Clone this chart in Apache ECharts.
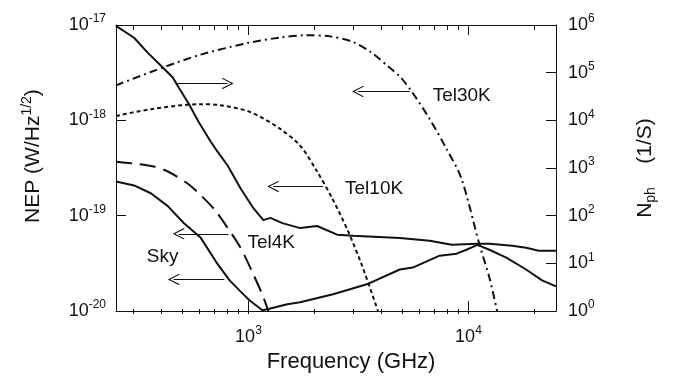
<!DOCTYPE html>
<html>
<head>
<meta charset="utf-8">
<script src="https://cdn.jsdelivr.net/npm/echarts@6/dist/echarts.min.js"></script>
<style>
  html, body { margin: 0; padding: 0; background: #fff; }
  #chart { width: 676px; height: 378px; }
</style>
</head>
<body>
<div id="chart"></div>
<script>
const FONT = "'Liberation Sans', Arial, Helvetica, sans-serif";
const INK = "#111";

// N_ph (right axis), solid
const nphFreq = [250, 302, 349, 408, 453, 482, 536, 594, 673, 710, 804, 920, 1053, 1169, 1258, 1426, 1718, 2052, 2529, 2986, 4875, 6668, 8400, 10900, 12500, 15800, 18300, 20900, 25000];
const nphVal = [9.6e5, 5.4e5, 2.6e5, 1.28e5, 7.9e4, 4.9e4, 2.2e4, 9.2e3, 3.6e3, 2.5e3, 1.13e3, 376, 144, 81, 90, 70, 55, 61, 40, 38, 34, 30, 24.6, 26, 26, 23.5, 21.3, 18.5, 18.5];

// Tel30K NEP, dash-dot
const tel30Freq = [250, 408, 607, 1000, 1400, 1800, 2350, 3000, 3600, 4300, 4875, 5521, 6668, 7946, 9288, 11230, 12450, 13500];
const tel30Nep = [2.33e-18, 3.58e-18, 4.89e-18, 6.5e-18, 7.4e-18, 7.8e-18, 7.6e-18, 6.6e-18, 5.2e-18, 3.7e-18, 2.88e-18, 2.01e-18, 1.03e-18, 5.04e-19, 2.46e-19, 4.95e-20, 2.25e-20, 1e-20];

// Tel10K NEP, dotted
const tel10Freq = [250, 360, 607, 747, 1021, 1395, 1718, 2052, 2400, 2833, 3282, 3880];
const tel10Nep = [1.11e-18, 1.31e-18, 1.48e-18, 1.44e-18, 1.22e-18, 8.13e-19, 5.42e-19, 2.91e-19, 1.53e-19, 6.93e-20, 3.0e-20, 1e-20];

// Tel4K NEP, long dash
const tel4Freq = [250, 302, 371, 430, 529, 607, 710, 804, 920, 1053, 1169, 1232];
const tel4Nep = [3.69e-19, 3.52e-19, 3.28e-19, 2.91e-19, 2.18e-19, 1.64e-19, 1.12e-19, 7.45e-20, 4.62e-20, 2.42e-20, 1.40e-20, 1e-20];

// Sky NEP, solid
const skyFreq = [250, 302, 360, 430, 508, 607, 716, 821, 910, 1010, 1157, 1232, 1501, 1718, 2426, 3452, 4875, 5582, 7398, 8830, 9790, 10990, 12450, 14860, 18280, 21620, 25000];
const skyNep = [2.29e-19, 2.08e-19, 1.72e-19, 1.26e-19, 8.4e-20, 5.86e-20, 3.23e-20, 2.10e-20, 1.65e-20, 1.30e-20, 1.02e-20, 1.05e-20, 1.18e-20, 1.24e-20, 1.50e-20, 1.91e-20, 2.73e-20, 2.86e-20, 3.81e-20, 4.0e-20, 4.40e-20, 4.95e-20, 4.40e-20, 3.63e-20, 2.73e-20, 2.10e-20, 1.82e-20];

// tick values
const xMajor = [1000, 10000];
const xMinor = [300, 400, 500, 600, 700, 800, 900, 2000, 3000, 4000, 5000, 6000, 7000, 8000, 9000, 20000];
const nepTicks = [1e-20, 1e-19, 1e-18, 1e-17];
const nphTicks = [1, 10, 100, 1e3, 1e4, 1e5, 1e6];

const W = 676, H = 378;
const GRID = { left: 116, right: 120, top: 25, bottom: 64 };
const gL = GRID.left, gR = W - GRID.right, gT = GRID.top, gB = H - GRID.bottom;

const ARROW = "path://M0,0L10,9L9,10L0,2L-9,10L-10,9Z";

const pairs = (xs, ys) => xs.map((x, i) => [x, ys[i]]);
const powLabel = (v) => "{b|10}{e|" + Math.round(Math.log10(v)) + "}";
const powRich = {
  b: { fontSize: 18, lineHeight: 24, fontFamily: FONT, color: INK },
  e: { fontSize: 12, lineHeight: 14, verticalAlign: "top", fontFamily: FONT, color: INK },
};

// 箭头 (tail -> head)
const arrow = (x1, x2, y) => ({
  silent: true,
  symbol: ["none", ARROW],
  symbolSize: [11, 12],
  label: { show: false },
  lineStyle: { color: INK, width: 1, type: "solid" },
  itemStyle: { color: INK },
  data: [[{ coord: [x1, y] }, { coord: [x2, y] }]],
});
const note = (text, x, y) => ({
  silent: true,
  symbol: "circle",
  symbolSize: 0,
  label: { show: true, position: "right", distance: 0, formatter: text, fontSize: 19, fontFamily: FONT, color: INK },
  data: [{ coord: [x, y] }],
});

// inward frame ticks: value along the axis, fixed pixel length
const xTickLines = (vals, len) => vals.flatMap((v) => [
  [{ coord: [v, 1e-19], y: gB }, { coord: [v, 1e-19], y: gB - len }],
  [{ coord: [v, 1e-19], y: gT }, { coord: [v, 1e-19], y: gT + len }],
]);
const yTickLines = (vals, side, len) => vals.map((v) => (side === "left"
  ? [{ coord: [1000, v], x: gL }, { coord: [1000, v], x: gL + len }]
  : [{ coord: [1000, v], x: gR }, { coord: [1000, v], x: gR - len }]));
const tickHolder = (yIdx, anchorY, lines) => ({
  name: "ticks" + yIdx, type: "line", xAxisIndex: 0, yAxisIndex: yIdx, silent: true,
  symbol: "none", showSymbol: false, data: [[1000, anchorY]], lineStyle: { opacity: 0 },
  markLine: {
    silent: true, symbol: ["none", "none"], label: { show: false },
    lineStyle: { color: INK, width: 1, type: "solid" },
    data: lines,
  },
});

const frame = { show: true, lineStyle: { color: INK, width: 1 } };
const major = () => ({ show: true, inside: true, length: 10, lineStyle: { color: INK, width: 1 } });

const chart = echarts.init(document.getElementById("chart"));
chart.setOption({
  animation: false,
  backgroundColor: "#fff",
  grid: GRID,
  xAxis: [
    {
      type: "log", min: 250, max: 25000, position: "bottom",
      axisLine: frame, axisTick: major(), splitLine: { show: false },
      axisLabel: { customValues: xMajor, formatter: powLabel, rich: powRich, margin: 14 },
      name: "Frequency (GHz)", nameLocation: "middle", nameGap: 38,
      nameTextStyle: { fontSize: 22, fontFamily: FONT, color: INK, padding: [0, 0, 0, 30] },
    },
    {
      type: "log", min: 250, max: 25000, position: "top",
      axisLine: frame, axisTick: major(), axisLabel: { show: false }, splitLine: { show: false },
    },
  ],
  yAxis: [
    {
      type: "log", min: 1e-20, max: 1e-17, position: "left",
      axisLine: frame, axisTick: major(), splitLine: { show: false },
      axisLabel: { customValues: nepTicks, formatter: powLabel, rich: powRich, margin: 10 },
      name: "NEP (W/Hz{s|1/2})", nameLocation: "middle", nameRotate: 90, nameGap: 70,
      nameTextStyle: {
        fontSize: 21, lineHeight: 26, fontFamily: FONT, color: INK, padding: [0, 0, 0, 24],
        rich: { s: { fontSize: 14, lineHeight: 14, verticalAlign: "top", fontFamily: FONT, color: INK } },
      },
    },
    {
      type: "log", min: 1, max: 1e6, position: "right",
      axisLine: frame, axisTick: major(), splitLine: { show: false },
      axisLabel: { customValues: nphTicks, formatter: powLabel, rich: powRich, margin: 12 },
      name: "N{sub|ph}    (1/S)", nameLocation: "middle", nameRotate: 90, nameGap: 76,
      nameTextStyle: {
        fontSize: 21, lineHeight: 26, fontFamily: FONT, color: INK,
        rich: { sub: { fontSize: 14, lineHeight: 14, verticalAlign: "bottom", fontFamily: FONT, color: INK } },
      },
    },
  ],
  series: [
    {
      name: "Nph", type: "line", xAxisIndex: 0, yAxisIndex: 1, showSymbol: false,
      data: pairs(nphFreq, nphVal),
      lineStyle: { color: INK, width: 2 },
      markLine: arrow(468, 804, 5.96e4),
    },
    {
      name: "Tel30K", type: "line", xAxisIndex: 0, yAxisIndex: 0, showSymbol: false, smooth: 0.3,
      data: pairs(tel30Freq, tel30Nep),
      lineStyle: { color: INK, width: 2, type: [8, 4, 2, 4] },
      markLine: arrow(5408, 3148, 2.01e-18),
      markPoint: note("Tel30K", 6873, 1.83e-18),
    },
    {
      name: "Tel10K", type: "line", xAxisIndex: 0, yAxisIndex: 0, showSymbol: false, smooth: 0.3,
      data: pairs(tel10Freq, tel10Nep),
      lineStyle: { color: INK, width: 2, type: [4, 3] },
      markLine: arrow(2183, 1297, 2.03e-19),
      markPoint: note("Tel10K", 2748, 1.94e-19),
    },
    {
      name: "Tel4K", type: "line", xAxisIndex: 0, yAxisIndex: 0, showSymbol: false, smooth: 0.3,
      data: pairs(tel4Freq, tel4Nep),
      lineStyle: { color: INK, width: 2, type: [16, 8] },
      markLine: arrow(812, 482, 6.46e-20),
      markPoint: note("Tel4K", 990, 5.2e-20),
    },
    {
      name: "Sky", type: "line", xAxisIndex: 0, yAxisIndex: 0, showSymbol: false,
      data: pairs(skyFreq, skyNep),
      lineStyle: { color: INK, width: 2 },
      markLine: arrow(778, 458, 2.15e-20),
      markPoint: note("Sky", 345, 3.72e-20),
    },
    tickHolder(0, 1e-19, xTickLines(xMajor, 10).concat(xTickLines(xMinor, 5), yTickLines(nepTicks, "left", 10))),
    tickHolder(1, 100, yTickLines(nphTicks, "right", 10)),
  ],
});
</script>
</body>
</html>
